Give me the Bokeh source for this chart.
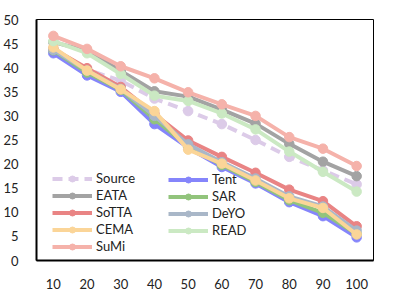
from bokeh.plotting import figure
from bokeh.models import FactorRange, Range1d, Legend, LegendItem, FixedTicker
from bokeh.embed import file_html
from bokeh.resources import INLINE

categories = ["10", "20", "30", "40", "50", "60", "70", "80", "90", "100"]

source = [44.0, 39.6, 37.3, 33.6, 31.0, 28.3, 25.0, 21.5, 18.7, 15.8]
tent = [43.0, 38.4, 35.0, 28.3, 23.4, 19.4, 16.0, 12.1, 9.2, 4.8]
eata = [45.3, 43.5, 39.3, 35.1, 34.0, 31.3, 28.4, 24.2, 20.5, 17.5]
sar = [43.6, 39.0, 35.4, 29.3, 23.7, 19.8, 16.3, 12.5, 9.9, 5.5]
sotta = [43.9, 39.9, 36.0, 30.4, 24.9, 21.5, 18.2, 14.7, 12.3, 7.1]
deyo = [43.7, 39.4, 35.6, 30.0, 24.1, 20.4, 17.0, 13.3, 11.2, 6.2]
cema = [44.2, 39.4, 35.5, 31.0, 23.0, 20.1, 16.6, 12.9, 10.9, 5.4]
read = [45.5, 43.0, 38.7, 34.2, 33.1, 30.5, 27.2, 22.6, 18.4, 14.3]
sumi = [46.6, 43.9, 40.3, 37.8, 34.9, 32.4, 30.0, 25.6, 23.2, 19.6]

series = [
    ("Source", source, "#dccbe8", "10 6"),
    ("Tent", tent, "#8585fb", "solid"),
    ("EATA", eata, "#a3a3a3", "solid"),
    ("SAR", sar, "#92c47c", "solid"),
    ("SoTTA", sotta, "#e98484", "solid"),
    ("DeYO", deyo, "#a9b7c8", "solid"),
    ("CEMA", cema, "#fbd598", "solid"),
    ("READ", read, "#cbe9c3", "solid"),
    ("SuMi", sumi, "#f5b2aa", "solid"),
]

p = figure(width=383, height=291, x_range=FactorRange(*categories),
           y_range=Range1d(0, 50), output_backend="svg", toolbar_location=None,
           min_border_left=29, min_border_right=10, min_border_top=19, min_border_bottom=29)

items = {}
for name, vals, color, dash in series:
    r1 = p.line(categories, vals, line_color=color, line_width=4, line_dash=dash)
    r2 = p.scatter(categories, vals, size=9.5, fill_color=color, line_color=color, marker="circle")
    items[name] = LegendItem(label=name, renderers=[r1, r2])

p.xgrid.visible = False
p.ygrid.visible = False
p.outline_line_color = "black"
p.outline_line_width = 1

for ax in (p.xaxis[0], p.yaxis[0]):
    ax.axis_line_color = "black"
    ax.axis_line_width = 2
    ax.major_tick_line_color = None
    ax.minor_tick_line_color = None
    ax.major_label_text_font = "Lato"
    ax.major_label_text_font_size = "13px"
    ax.major_label_text_color = "#222222"

p.yaxis.ticker = FixedTicker(ticks=list(range(0, 51, 5)))
p.yaxis.major_label_standoff = 12
p.xaxis.major_label_standoff = 12

def make_legend(names, loc):
    lg = Legend(items=[items[n] for n in names], location=loc, orientation="vertical",
                glyph_width=40, glyph_height=15, label_height=15, spacing=1,
                label_standoff=4, padding=0, margin=0,
                background_fill_alpha=0, border_line_color=None,
                label_text_font="Lato", label_text_font_size="13px",
                label_text_color="#222222")
    p.add_layout(lg, "center")

make_legend(["Source", "EATA", "SoTTA", "CEMA", "SuMi"], (16, 6))
make_legend(["Tent", "SAR", "DeYO", "READ"], (132, 22))

open("out.html", "w").write(file_html(p, INLINE))
